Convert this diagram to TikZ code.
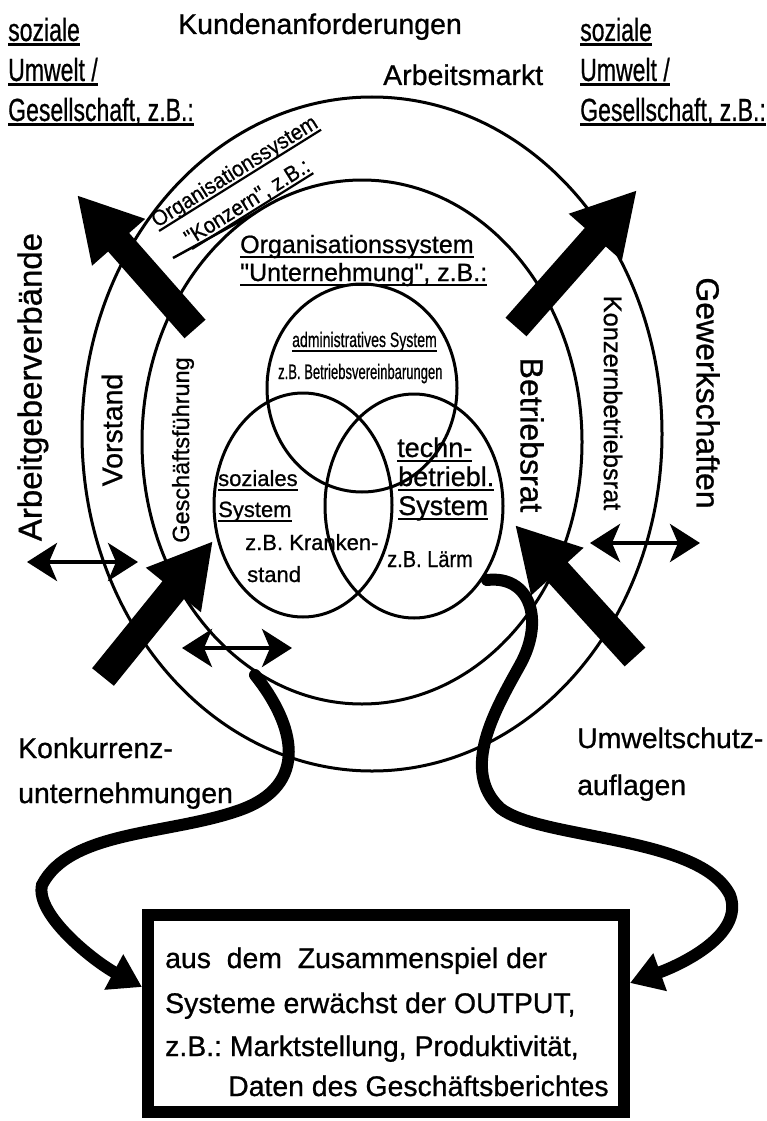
\documentclass[tikz,border=0pt]{standalone}
\usepackage{fontspec}
\setmainfont{Liberation Sans}[UprightFeatures={FakeBold=0.8}]
\newfontfamily\qfont{Liberation Sans}[UprightFeatures={FakeBold=0.8}]
\usepackage{graphicx}
\usetikzlibrary{arrows.meta,shapes.geometric}
\newcommand{\fsz}[1]{\fontsize{#1}{#1}\selectfont}
\newsavebox{\myulbox}
\newcommand{\ulx}[1]{\sbox{\myulbox}{#1}\dp\myulbox=0pt\leavevmode\vtop{\copy\myulbox\kern2.5pt\hrule height 2.2pt}}
\newcommand{\sx}[2]{\scalebox{#1}[1]{#2}}
\newcommand{\dq}{{\qfont\symbol{34}}}
\frenchspacing
\begin{document}
\begin{tikzpicture}[x=1pt,y=-1pt,
  txt/.style={inner sep=0pt, anchor=base west},
  ctxt/.style={inner sep=0pt, anchor=center},
  ring/.style={draw, ellipse, line width=3pt, inner sep=0pt},
  bigarrow/.style={line width=28pt, -{Triangle[length=63pt,width=66pt]}},
  dbl/.style={line width=4pt, {Stealth[length=30pt,width=38pt,inset=8pt]}-{Stealth[length=30pt,width=38pt,inset=8pt]}},
  curve/.style={line width=12pt, line cap=round, -{Triangle[length=32pt,width=38pt]}}
]
\fill[white] (0,0) rectangle (766,1121);
\useasboundingbox (0,0) rectangle (766,1121);

% big rings
\node[ring, minimum width=580pt, minimum height=674pt] (outer) at (372,434) {};
\node[ring, minimum width=440pt, minimum height=524pt] (inner) at (362,442) {};
% venn
\node[ring, minimum width=190pt, minimum height=208pt] (vadm) at (362,388) {};
\node[ring, minimum width=178pt, minimum height=224pt] (vsoz) at (303,505) {};
\node[ring, minimum width=178pt, minimum height=224pt] (vtec) at (414,506) {};

% line under Konzern label
\coordinate (kl1) at (173,258);
\coordinate (kl2) at (255,213);
\draw[line width=2.5pt] (kl1) -- (kl2);

% big arrows
\coordinate (aULt) at (195,329); \coordinate (aULh) at (77,195);
\coordinate (aURt) at (516,327); \coordinate (aURh) at (637,190);
\coordinate (aLLt) at (103,677); \coordinate (aLLh) at (213,541);
\coordinate (aLRt) at (635,657); \coordinate (aLRh) at (515,525);
\draw[bigarrow] (aULt) -- (aULh);
\draw[bigarrow] (aURt) -- (aURh);
\draw[bigarrow] (aLLt) -- (aLLh);
\draw[bigarrow] (aLRt) -- (aLRh);

% double arrows
\coordinate (dL1) at (27,562); \coordinate (dL2) at (138,562);
\coordinate (dB1) at (182,648); \coordinate (dB2) at (292,648);
\coordinate (dR1) at (590,543); \coordinate (dR2) at (700,543);
\draw[dbl] (dL1) -- (dL2);
\draw[dbl] (dB1) -- (dB2);
\draw[dbl] (dR1) -- (dR2);

% output box
\node[draw, line width=12pt, minimum width=476pt, minimum height=197pt, inner sep=0pt] (box) at (386,1013.5) {};

% curved connectors
\coordinate (cL0) at (255,675);
\coordinate (cR0) at (487,580);
\draw[curve] (cL0) .. controls (295,725) and (310,785) .. (240,810)
  .. controls (170,835) and (70,830) .. (42,885)
  .. controls (35,915) and (95,962) .. ([yshift=26.5pt]box.west);
\draw[curve] (cR0) .. controls (530,575) and (545,620) .. (520,665)
  .. controls (495,710) and (460,770) .. (500,808)
  .. controls (540,840) and (700,835) .. (730,895)
  .. controls (745,935) and (680,965) .. ([yshift=30.5pt]box.east);

% top texts
\node[txt] (kunden) at (178,34) {\fsz{28.5}Kundenanforderungen};
\node[txt] (arbm) at (383,85) {\fsz{28.5}Arbeitsmarkt};
\node[txt] (sozL1) at (8,41) {\fsz{32}\sx{0.72}{\ulx{soziale}}};
\node[txt] (sozL2) at (8,81) {\fsz{32}\sx{0.72}{\ulx{Umwelt /}}};
\node[txt] (sozL3) at (8,121) {\fsz{32}\sx{0.72}{\ulx{Gesellschaft, z.B.:}}};
\node[txt] (sozR1) at (580,41) {\fsz{32}\sx{0.72}{\ulx{soziale}}};
\node[txt] (sozR2) at (580,81) {\fsz{32}\sx{0.72}{\ulx{Umwelt /}}};
\node[txt] (sozR3) at (580,121) {\fsz{32}\sx{0.72}{\ulx{Gesellschaft, z.B.:}}};

% Konzern label
\node[txt, rotate=32] (konz1) at (157,228) {\fsz{22}\sx{0.93}{\ulx{Organisationssystem}}};
\node[txt, rotate=32] (konz2) at (190,246) {\fsz{22}\sx{0.93}{\ulx{\dq Konzern\dq, z.B.:}}};

% Unternehmung label
\node[txt] (unt1) at (240,253) {\fsz{25}\ulx{Organisationssystem}};
\node[txt] (unt2) at (240,281) {\fsz{25}\ulx{\dq Unternehmung\dq, z.B.:}};

% venn texts
\node[txt] (adm1) at (292,347) {\fsz{21}\sx{0.67}{\ulx{administratives System}}};
\node[txt] (adm2) at (278,379) {\fsz{21}\sx{0.62}{z.B. Betriebsvereinbarungen}};
\node[txt] (soz1) at (218,486) {\fsz{22}\ulx{soziales}};
\node[txt] (soz2) at (218,517) {\fsz{22}\ulx{System}};
\node[txt] (soz3) at (245,550) {\fsz{22}z.B. Kranken-};
\node[txt] (soz4) at (247,582) {\fsz{22}stand};
\node[txt] (tec1) at (397,457) {\fsz{27}\ulx{techn-}};
\node[txt] (tec2) at (398,486) {\fsz{27}\ulx{betriebl.}};
\node[txt] (tec3) at (398,515) {\fsz{27}\ulx{System}};
\node[txt] (tec4) at (387,567) {\fsz{23}\sx{0.87}{z.B. Lärm}};

% rotated side labels
\node[ctxt, rotate=90] (arbg) at (33,387) {\fsz{33}Arbeitgeberverbände};
\node[ctxt, rotate=90] (vorst) at (112,430) {\fsz{28.5}Vorstand};
\node[ctxt, rotate=90] (gf) at (183,450) {\fsz{23.5}Geschäftsführung};
\node[ctxt, rotate=-90] (gew) at (708,393) {\fsz{32}Gewerkschaften};
\node[ctxt, rotate=-90] (kbr) at (613,403) {\fsz{25.4}Konzernbetriebsrat};
\node[ctxt, rotate=-90] (br) at (532,435) {\fsz{32}Betriebsrat};

% lower labels
\node[txt] (konk1) at (18,758) {\fsz{28.4}Konkurrenz-};
\node[txt] (konk2) at (18,803) {\fsz{28.4}unternehmungen};
\node[txt] (uws1) at (577,748) {\fsz{28.4}Umweltschutz-};
\node[txt] (uws2) at (577,795) {\fsz{28.4}auflagen};

% box text
\node[txt] (b1) at (165,968) {\fsz{28.4}aus\ \ dem\ \ Zusammenspiel der};
\node[txt] (b2) at (165,1013) {\fsz{28.4}Systeme erwächst der OUTPUT,};
\node[txt] (b3) at (165,1056) {\fsz{28.4}z.B.: Marktstellung, Produktivität,};
\node[txt] (b4) at (228,1096) {\fsz{28.4}Daten des Geschäftsberichtes};
\end{tikzpicture}
\end{document}
